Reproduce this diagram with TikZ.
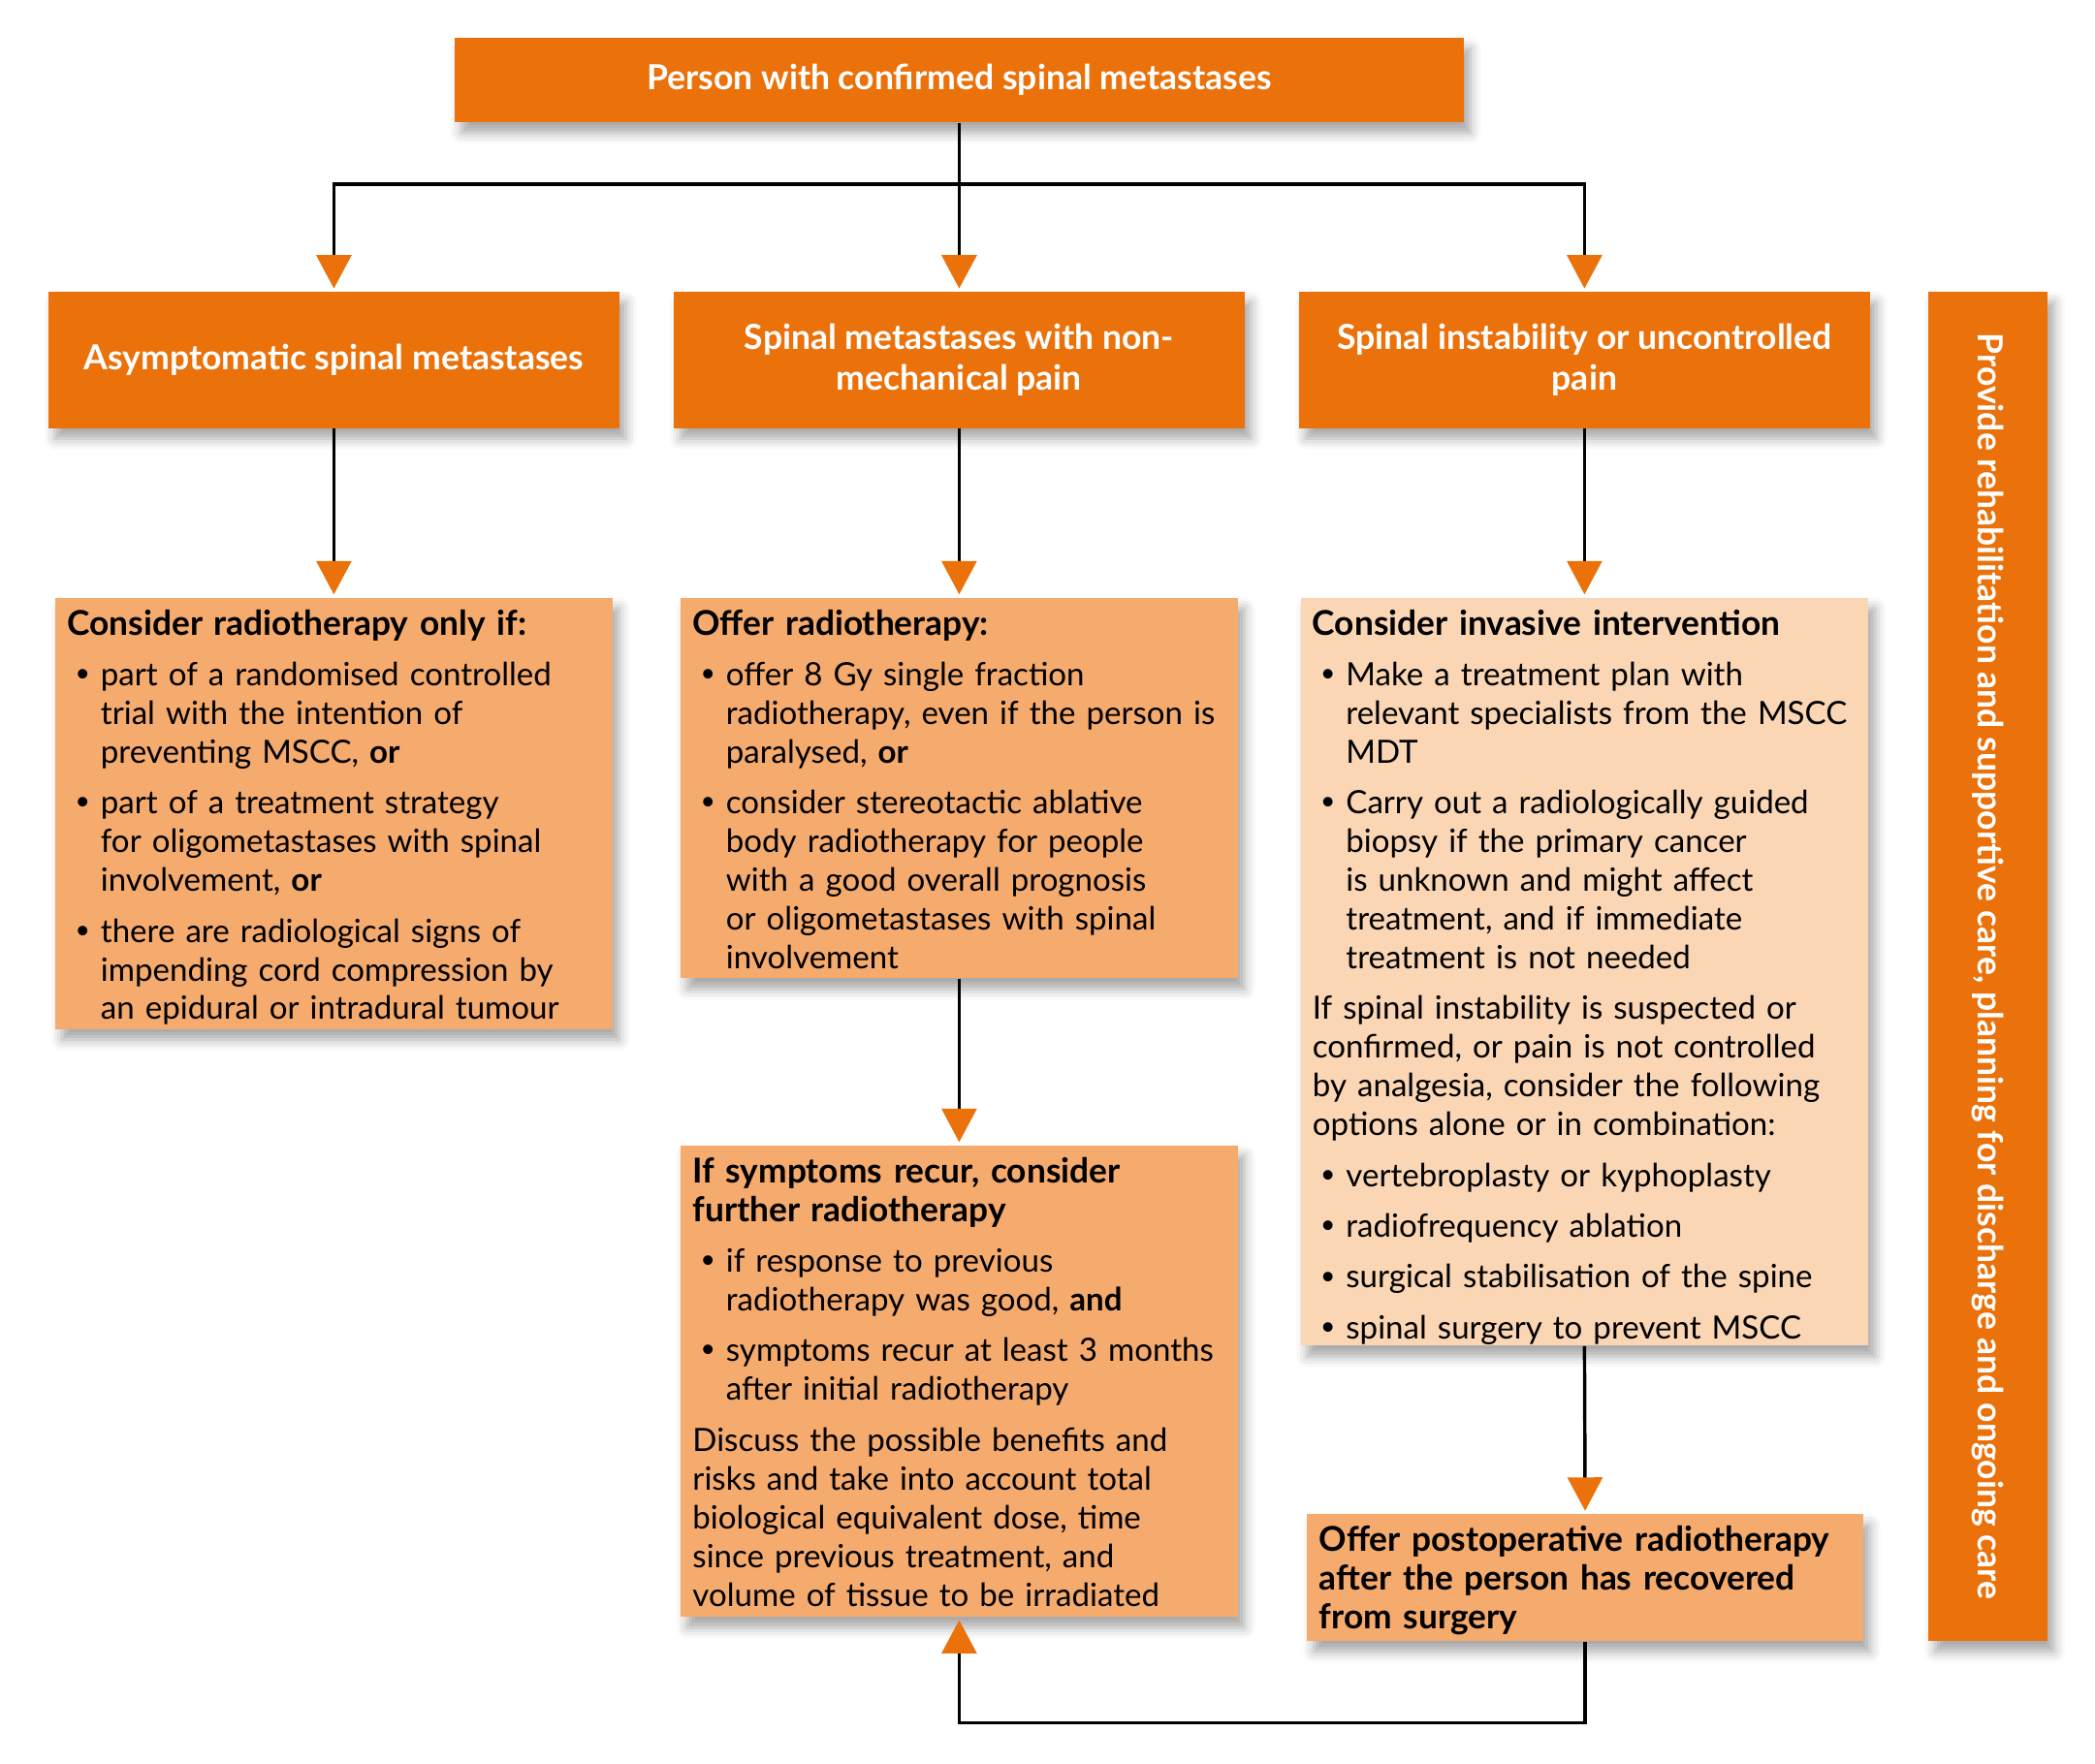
\documentclass[tikz,border=0pt]{standalone}
\usepackage{fontspec}
\setmainfont{Lato}
\usetikzlibrary{arrows.meta,shadows.blur}
\definecolor{dor}{RGB}{235,113,10}
\definecolor{lor}{RGB}{245,170,110}
\definecolor{pch}{RGB}{251,214,180}
\newcommand\bitem[1]{\par\vspace{4.5pt}\noindent\hangindent=12.5pt\hangafter=1\makebox[12.5pt][l]{\hspace{3pt}\raisebox{0.12em}{\scalebox{0.8}{\textbullet}}}{\let\\\newline #1}\par}
\newcommand\bpara[1]{\par\vspace{4.5pt}\noindent #1\par}
\newcommand\ttl[1]{\strut{\bfseries\fontsize{12.8}{14.5}\selectfont\spaceskip=.3333em\xspaceskip=.5em #1}\par}
\newcommand\bx[3]{\parbox[t][#1][t]{#2}{\raggedright\fontsize{12}{14.5}\selectfont\spaceskip=.3333em\xspaceskip=.5em\vspace*{3.8pt}#3}}
\tikzset{
  x=0.5pt, y=-0.5pt,
  shd/.style={blur shadow={shadow xshift=2.5pt, shadow yshift=-4pt, shadow blur radius=4pt, shadow opacity=35}},
  hdr/.style={fill=dor, text=white, font=\bfseries\fontsize{12.9}{15}\selectfont, align=center, inner sep=0pt, anchor=north west, shd},
  body/.style={fill=lor, anchor=north west, inner xsep=4.5pt, inner ysep=0pt, shd},
  ln/.style={draw=black, line width=1.25pt},
  arr/.style={ln, -{Triangle[length=12.5pt,width=13pt,color=dor]}, shorten >=1pt}
}
\begin{document}
\begin{tikzpicture}
\useasboundingbox (0,0) rectangle (1568,1320);
% top
\node[hdr, minimum width=377.5pt, minimum height=31.5pt] (top) at (340,28) {Person with confirmed spinal metastases};
% row 2
\node[hdr, minimum width=213.5pt, minimum height=51pt] (a2) at (36,218) {Asymptomatic spinal metastases};
\node[hdr, minimum width=213.5pt, minimum height=51pt] (b2) at (504,218) {Spinal metastases with non-\\mechanical pain};
\node[hdr, minimum width=213.5pt, minimum height=51pt] (c2) at (972,218) {Spinal instability or uncontrolled\\pain};
\node[hdr, minimum width=44.5pt, minimum height=505pt] (side) at (1443,218) {\rotatebox{-90}{Provide rehabilitation and supportive care, planning for discharge and ongoing care}};
% row 3
\node[body] (a3) at (41,447) {\bx{161.5pt}{199.5pt}{%
\ttl{Consider radiotherapy only if:}
\bitem{part of a randomised controlled\\trial with the intention of\\preventing MSCC, \textbf{or}}
\bitem{part of a treatment strategy\\for oligometastases with spinal\\involvement, \textbf{or}}
\bitem{there are radiological signs of\\impending cord compression by\\an epidural or intradural tumour}}};
\node[body] (b3) at (509,447) {\bx{142.5pt}{199.5pt}{%
\ttl{Offer radiotherapy:}
\bitem{offer 8 Gy single fraction\\radiotherapy, even if the person is\\paralysed, \textbf{or}}
\bitem{consider stereotactic ablative\\body radiotherapy for people\\with a good overall prognosis\\or oligometastases with spinal\\involvement}}};
\node[body, fill=pch] (c3) at (973,447) {\bx{280pt}{203.5pt}{%
\ttl{Consider invasive intervention}
\bitem{Make a treatment plan with\\relevant specialists from the MSCC\\MDT}
\bitem{Carry out a radiologically guided\\biopsy if the primary cancer\\is unknown and might affect\\treatment, and if immediate\\treatment is not needed}
\bpara{If spinal instability is suspected or\\confirmed, or pain is not controlled\\by analgesia, consider the following\\options alone or in combination:}
\bitem{vertebroplasty or kyphoplasty}
\bitem{radiofrequency ablation}
\bitem{surgical stabilisation of the spine}
\bitem{spinal surgery to prevent MSCC}}};
% row 4
\node[body] (b4) at (509,857) {\bx{176.5pt}{199.5pt}{%
\ttl{If symptoms recur, consider\\further radiotherapy}
\bitem{if response to previous\\radiotherapy was good, \textbf{and}}
\bitem{symptoms recur at least 3 months\\after initial radiotherapy}
\bpara{Discuss the possible benefits and\\risks and take into account total\\biological equivalent dose, time\\since previous treatment, and\\volume of tissue to be irradiated}}};
\node[body] (c4) at (978,1133) {\bx{47.5pt}{199pt}{%
\ttl{Offer postoperative radiotherapy\\after the person has recovered\\from surgery}}};
% connectors
\path (top.south) ++(0,46) coordinate (j);
\draw[ln] (top.south) -- (j);
\draw[arr] (j) -| (a2.north);
\draw[arr] (j) -- (b2.north);
\draw[arr] (j) -| (c2.north);
\draw[arr] (a2.south) -- (a3.north);
\draw[arr] (b2.south) -- (b3.north);
\draw[arr] (c2.south) -- (c3.north);
\draw[arr] (b3.south) -- (b4.north);
\draw[arr] (c3.south) -- (c4.north);
\draw[arr] (c4.south) -- ++(0,61) -| (b4.south);
\end{tikzpicture}
\end{document}
